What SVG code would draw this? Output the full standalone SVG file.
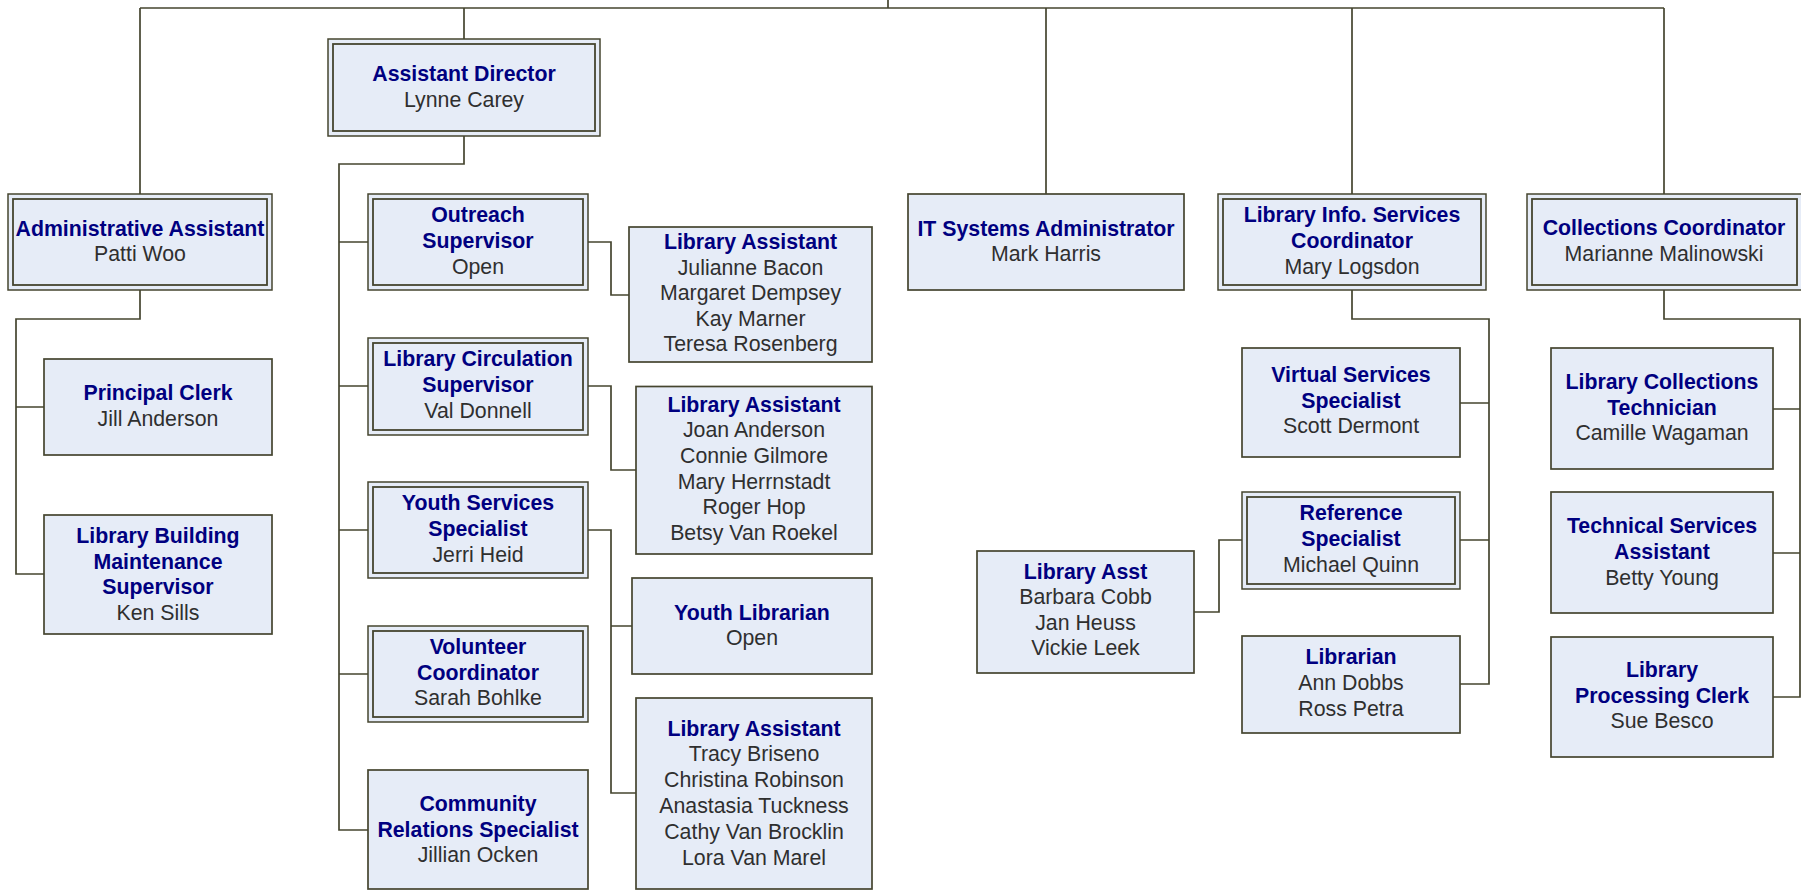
<svg xmlns="http://www.w3.org/2000/svg" width="1801" height="890" viewBox="0 0 1801 890">
<style>
.box{fill:#e6ecf7;stroke:#45452f;stroke-width:1.7}
.in{fill:none;stroke:#45452f;stroke-width:1.8}
.gap{fill:#e6ecf7;stroke:#45452f;stroke-width:1.5}
.t{font-family:"Liberation Sans",Arial,sans-serif;font-weight:bold;font-size:21.3px;fill:#000080;text-anchor:middle}
.n{font-family:"Liberation Sans",Arial,sans-serif;font-size:21.3px;fill:#2f2f2f;text-anchor:middle}
.c{fill:none;stroke:#45452f;stroke-width:1.7}
</style>
<rect width="1801" height="890" fill="#ffffff"/>
<g id="connectors">
<path class="c" d="M140,8 H1664 M888,0 V8 M140,8 V194 M464,8 V39 M1046,8 V194 M1352,8 V194 M1664,8 V194"/>
<path class="c" d="M140,290 V319 H16 V574 H44 M16,407 H44"/>
<path class="c" d="M464,136 V164 H339 V830 H368 M339,242 H368 M339,386 H368 M339,530 H368 M339,674 H368"/>
<path class="c" d="M588,242 H611 V295 H629"/>
<path class="c" d="M588,386 H611 V470 H636"/>
<path class="c" d="M588,530 H611 V793 H636 M611,626 H632"/>
<path class="c" d="M1352,290 V319 H1489 V684 H1460 M1460,403 H1489 M1460,540 H1489"/>
<path class="c" d="M1242,540 H1219 V612 H1194"/>
<path class="c" d="M1664,290 V319 H1800 V697 H1773 M1773,409 H1800 M1773,553 H1800"/>
</g>
<g id="admin">
<rect class="gap" x="8" y="194" width="264" height="96"/>
<rect class="in" x="13" y="199" width="254" height="86"/>
<text class="t" x="140" y="236">Administrative Assistant</text>
<text class="n" x="140" y="261">Patti Woo</text>
</g>
<g id="assistant-director">
<rect class="gap" x="328" y="39" width="272" height="97"/>
<rect class="in" x="333" y="44" width="262" height="87"/>
<text class="t" x="464" y="81">Assistant Director</text>
<text class="n" x="464" y="107">Lynne Carey</text>
</g>
<g id="principal-clerk">
<rect class="box" x="44" y="359" width="228" height="96"/>
<text class="t" x="158" y="400">Principal Clerk</text>
<text class="n" x="158" y="426">Jill Anderson</text>
</g>
<g id="building-maintenance">
<rect class="box" x="44" y="515" width="228" height="119"/>
<text class="t" x="158" y="543">Library Building</text>
<text class="t" x="158" y="568.5">Maintenance</text>
<text class="t" x="158" y="594">Supervisor</text>
<text class="n" x="158" y="619.5">Ken Sills</text>
</g>
<g id="outreach">
<rect class="gap" x="368" y="194" width="220" height="96"/>
<rect class="in" x="373" y="199" width="210" height="86"/>
<text class="t" x="478" y="222">Outreach</text>
<text class="t" x="478" y="248">Supervisor</text>
<text class="n" x="478" y="273.5">Open</text>
</g>
<g id="circulation">
<rect class="gap" x="368" y="338" width="220" height="97"/>
<rect class="in" x="373" y="343" width="210" height="87"/>
<text class="t" x="478" y="366">Library Circulation</text>
<text class="t" x="478" y="392">Supervisor</text>
<text class="n" x="478" y="417.5">Val Donnell</text>
</g>
<g id="youth-services">
<rect class="gap" x="368" y="482" width="220" height="96"/>
<rect class="in" x="373" y="487" width="210" height="86"/>
<text class="t" x="478" y="510">Youth Services</text>
<text class="t" x="478" y="536">Specialist</text>
<text class="n" x="478" y="561.5">Jerri Heid</text>
</g>
<g id="volunteer">
<rect class="gap" x="368" y="626" width="220" height="96"/>
<rect class="in" x="373" y="631" width="210" height="86"/>
<text class="t" x="478" y="653.5">Volunteer</text>
<text class="t" x="478" y="679.5">Coordinator</text>
<text class="n" x="478" y="705">Sarah Bohlke</text>
</g>
<g id="community-relations">
<rect class="box" x="368" y="770" width="220" height="119"/>
<text class="t" x="478" y="811">Community</text>
<text class="t" x="478" y="836.5">Relations Specialist</text>
<text class="n" x="478" y="862">Jillian Ocken</text>
</g>
<g id="library-assistant-1">
<rect class="box" x="629" y="227" width="243" height="135"/>
<text class="t" x="750.5" y="249">Library Assistant</text>
<text class="n" x="750.5" y="274.5">Julianne Bacon</text>
<text class="n" x="750.5" y="300">Margaret Dempsey</text>
<text class="n" x="750.5" y="325.5">Kay Marner</text>
<text class="n" x="750.5" y="351">Teresa Rosenberg</text>
</g>
<g id="library-assistant-2">
<rect class="box" x="636" y="386.5" width="236" height="167.5"/>
<text class="t" x="754" y="411.5">Library Assistant</text>
<text class="n" x="754" y="437.3">Joan Anderson</text>
<text class="n" x="754" y="463">Connie Gilmore</text>
<text class="n" x="754" y="488.7">Mary Herrnstadt</text>
<text class="n" x="754" y="514.4">Roger Hop</text>
<text class="n" x="754" y="540">Betsy Van Roekel</text>
</g>
<g id="youth-librarian">
<rect class="box" x="632" y="578" width="240" height="96"/>
<text class="t" x="752" y="619.5">Youth Librarian</text>
<text class="n" x="752" y="645">Open</text>
</g>
<g id="library-assistant-3">
<rect class="box" x="636" y="698" width="236" height="191"/>
<text class="t" x="754" y="735.7">Library Assistant</text>
<text class="n" x="754" y="761.4">Tracy Briseno</text>
<text class="n" x="754" y="787.2">Christina Robinson</text>
<text class="n" x="754" y="813">Anastasia Tuckness</text>
<text class="n" x="754" y="838.8">Cathy Van Brocklin</text>
<text class="n" x="754" y="864.5">Lora Van Marel</text>
</g>
<g id="it-systems">
<rect class="box" x="908" y="194" width="276" height="96"/>
<text class="t" x="1046" y="235.5">IT Systems Administrator</text>
<text class="n" x="1046" y="261">Mark Harris</text>
</g>
<g id="library-info-services">
<rect class="gap" x="1218" y="194" width="268" height="96"/>
<rect class="in" x="1223" y="199" width="258" height="86"/>
<text class="t" x="1352" y="222">Library Info. Services</text>
<text class="t" x="1352" y="248">Coordinator</text>
<text class="n" x="1352" y="273.5">Mary Logsdon</text>
</g>
<g id="collections-coordinator">
<rect class="gap" x="1527" y="194" width="276" height="96"/>
<rect class="in" x="1532" y="199" width="265" height="86"/>
<text class="t" x="1664" y="235">Collections Coordinator</text>
<text class="n" x="1664" y="260.5">Marianne Malinowski</text>
</g>
<g id="virtual-services">
<rect class="box" x="1242" y="348" width="218" height="109"/>
<text class="t" x="1351" y="382">Virtual Services</text>
<text class="t" x="1351" y="407.5">Specialist</text>
<text class="n" x="1351" y="433">Scott Dermont</text>
</g>
<g id="reference-specialist">
<rect class="gap" x="1242" y="492" width="218" height="97"/>
<rect class="in" x="1247" y="497" width="208" height="87"/>
<text class="t" x="1351" y="520">Reference</text>
<text class="t" x="1351" y="546">Specialist</text>
<text class="n" x="1351" y="571.5">Michael Quinn</text>
</g>
<g id="library-asst">
<rect class="box" x="977" y="551" width="217" height="122"/>
<text class="t" x="1085.5" y="578.5">Library Asst</text>
<text class="n" x="1085.5" y="604">Barbara Cobb</text>
<text class="n" x="1085.5" y="629.5">Jan Heuss</text>
<text class="n" x="1085.5" y="655">Vickie Leek</text>
</g>
<g id="librarian">
<rect class="box" x="1242" y="636" width="218" height="97"/>
<text class="t" x="1351" y="664">Librarian</text>
<text class="n" x="1351" y="690">Ann Dobbs</text>
<text class="n" x="1351" y="715.5">Ross Petra</text>
</g>
<g id="collections-technician">
<rect class="box" x="1551" y="348" width="222" height="121"/>
<text class="t" x="1662" y="389.3">Library Collections</text>
<text class="t" x="1662" y="414.5">Technician</text>
<text class="n" x="1662" y="440">Camille Wagaman</text>
</g>
<g id="technical-services">
<rect class="box" x="1551" y="492" width="222" height="121"/>
<text class="t" x="1662" y="533.3">Technical Services</text>
<text class="t" x="1662" y="559">Assistant</text>
<text class="n" x="1662" y="585">Betty Young</text>
</g>
<g id="processing-clerk">
<rect class="box" x="1551" y="637" width="222" height="120"/>
<text class="t" x="1662" y="677.3">Library</text>
<text class="t" x="1662" y="702.7">Processing Clerk</text>
<text class="n" x="1662" y="728.3">Sue Besco</text>
</g>
</svg>
